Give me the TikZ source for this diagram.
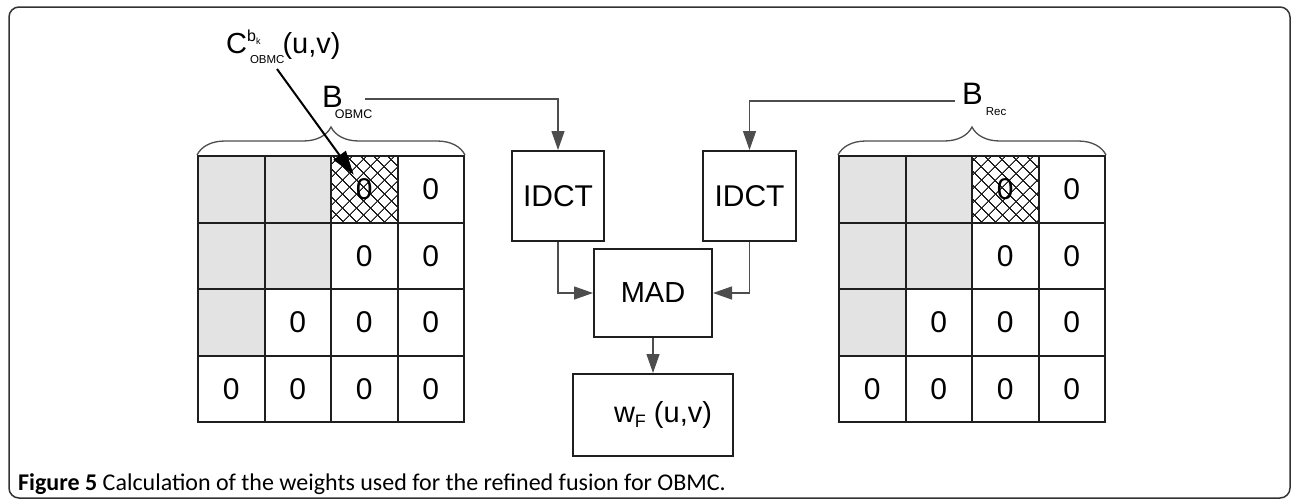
\documentclass[tikz,border=0pt]{standalone}
\usepackage{fontspec}
\setmainfont{Liberation Sans}
\newfontfamily\capfont{Carlito}
\usepackage{tikz}
\usetikzlibrary{arrows.meta,patterns.meta,decorations.pathreplacing}
\definecolor{cellgray}{HTML}{E3E3E3}
\definecolor{gridline}{HTML}{1F1F1F}
\definecolor{linegray}{HTML}{4D4D4D}
\definecolor{framegray}{HTML}{333333}
\newcommand{\blkfont}{\fontsize{30}{36}\selectfont}

\begin{document}
\begin{tikzpicture}[x=1pt, y=-1pt]
    \tikzstyle{cell}=[draw=gridline, line width=2pt, minimum size=66.5pt, inner sep=0pt, font=\blkfont]
    \tikzstyle{hatched}=[cell, pattern={Hatch[angle=45,distance=10.5pt,line width=1.1pt]}, pattern color=gridline]
    \tikzstyle{block}=[draw=gridline, line width=2pt, inner sep=0pt, font=\blkfont]
    \tikzstyle{conn}=[draw=linegray, line width=1.3pt, -{Triangle[length=19pt,width=13pt]}]
    \tikzstyle{pointer}=[draw=black, line width=2pt, -{Triangle[length=24pt,width=15pt]}, shorten >=18pt]
    \tikzstyle{brace}=[draw=linegray, line width=1.3pt, decorate, decoration={brace, amplitude=28pt}]

    \useasboundingbox (0,0) rectangle (1292,501);
    \draw[framegray, line width=1.5pt, rounded corners=10pt] (9,7) rectangle (1290,498);

    % Draw the two 4x4 coefficient blocks
    \foreach \blk/\xo in {L/198,R/839}
        \foreach \r in {1,...,4}
            \foreach \c in {1,...,4} {
                \pgfmathtruncatemacro{\shade}{(\c<3)&&(\r+\c<5)}
                \ifnum\shade=1
                    \node[cell, fill=cellgray] (\blk-\r-\c) at ({\xo+66.5*\c-33.25},{66.5*\r+122.75}) {};
                \else\ifnum\r\c=13
                    \node[hatched] (\blk-\r-\c) at ({\xo+66.5*\c-33.25},{66.5*\r+122.75}) {0};
                \else
                    \node[cell] (\blk-\r-\c) at ({\xo+66.5*\c-33.25},{66.5*\r+122.75}) {0};
                \fi\fi
            }

    % Braces and block labels
    \draw[brace] (L-1-1.north west) -- (L-1-4.north east);
    \draw[brace] (R-1-1.north west) -- (R-1-4.north east);
    \node[anchor=base west, inner sep=0pt] (BO) at (322,107)
        {\fontsize{31}{36}\selectfont B\kern-8pt\raisebox{-11pt}{\fontsize{12.5}{13}\selectfont OBMC}};
    \node[anchor=base west, inner sep=0pt] (BR) at (962,104)
        {\fontsize{31}{36}\selectfont B\kern3pt\raisebox{-11pt}{\fontsize{11.5}{12}\selectfont Rec}};
    \node[anchor=base west, inner sep=0pt] (Clab) at (226,53)
        {\fontsize{29}{34}\selectfont C\raisebox{12pt}{\fontsize{16}{16}\selectfont b\raisebox{-3pt}{\fontsize{9}{9}\selectfont k}}%
         \kern-10.5pt\raisebox{-10pt}{\fontsize{11.5}{12}\selectfont OBMC}\kern-2pt(u,v)};
    \coordinate (bo-out) at (365,99);
    \coordinate (br-out) at (955,101);
    \coordinate (ctail) at (277,69);

    % Processing blocks
    \node[block, minimum width=92pt, minimum height=90pt] (IDCT-L) at (558,196) {IDCT};
    \node[block, minimum width=93pt, minimum height=90pt] (IDCT-R) at (749.5,196) {IDCT};
    \node[block, minimum width=118pt, minimum height=88pt, font=\fontsize{29}{34}\selectfont] (MAD) at (653,293) {MAD};
    \node[block, minimum width=160pt, minimum height=82pt] (WF) at (653,415)
        {\fontsize{29}{34}\selectfont\hspace*{20pt}w\raisebox{-5pt}{\fontsize{18}{20}\selectfont F}\hspace{8pt}(u,v)};

    % Connect everything
    \draw[conn] (bo-out) -| (IDCT-L);
    \draw[conn] (br-out) -| (IDCT-R);
    \draw[conn] (IDCT-L) |- (MAD);
    \draw[conn] (IDCT-R) |- (MAD);
    \draw[conn] (MAD) -- (WF);
    \draw[pointer] (ctail) -- (L-1-3.center);

    % Caption
    \node[anchor=base west, inner sep=0pt, font=\capfont\fontsize{24}{27}\selectfont] (caption) at (18,490)
        {\textbf{Figure 5} Calculation of the weights used for the refined fusion for OBMC.};
\end{tikzpicture}
\end{document}
